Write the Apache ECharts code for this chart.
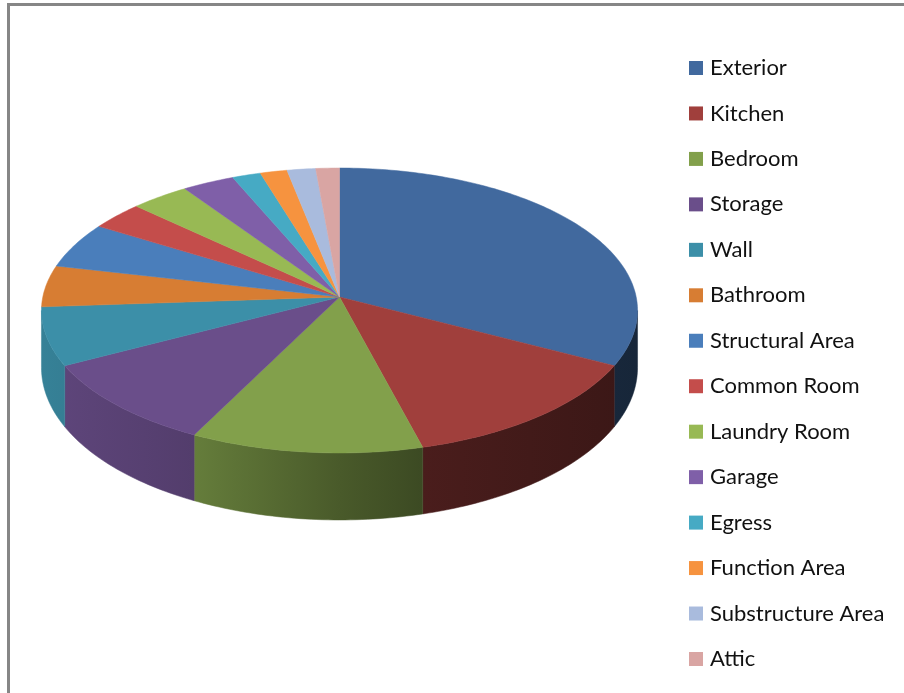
<!DOCTYPE html>
<html>
<head>
<meta charset="utf-8">
<style>html,body{margin:0;padding:0;background:#fff}#chart{width:904px;height:693px}</style>
<script src="https://cdn.jsdelivr.net/npm/echarts@6/dist/echarts.min.js"></script>
</head>
<body>
<div id="chart"></div>
<script>
// Share of issues per area, in percent
const categories = ['Exterior','Kitchen','Bedroom','Storage','Wall','Bathroom','Structural Area','Common Room','Laundry Room','Garage','Egress','Function Area','Substructure Area','Attic'];
const shares = [32.7,13.2,11.5,9.9,6.6,4.7,5.2,3.2,3.5,3.1,1.7,1.6,1.7,1.4];
const colors = ['#41699E','#A03F3C','#82A04B','#6A4E8A','#3C8FA8','#D77D33','#4A7EBB','#C44D4B','#98B954','#7F5FA8','#46AAC4','#F6933F','#A9BBDD','#D9A5A3'];

// Tilted disc: hub position, radii, perspective strength and rim thickness
const hubX = 339.5, hubY = 297, radX = 296.7, radY = 141.2, persp = 0.0947;
const rimBase = 56, rimFront = 11;
const total = shares.reduce((a, b) => a + b, 0);
const startAngle = [];
shares.reduce((acc, v, i) => { startAngle[i] = acc / total * 360; return acc + v; }, 0);

function rimPoint(deg) {
  const t = deg * Math.PI / 180, u = Math.sin(t), v = Math.cos(t), w = 1 + persp * v;
  return { x: hubX + radX * u / w, y: hubY - radY * v / w, drop: rimBase - rimFront * v };
}
function arc(from, to) {
  const pts = [], n = Math.max(2, Math.ceil(to - from));
  for (let i = 0; i <= n; i++) pts.push(rimPoint(from + (to - from) * i / n));
  return pts;
}
// Rim shading darkens from left to right across the whole disc
const shadeStops = [[41, .9], [194, .78], [340, .56], [423, .46], [637, .36]];
function shade(hex, f) {
  const n = parseInt(hex.slice(1), 16);
  const c = [n >> 16, (n >> 8) & 255, n & 255].map(x => Math.round(x * f));
  return 'rgb(' + c.join(',') + ')';
}
function rimGradient(hex) {
  const x0 = shadeStops[0][0], x1 = shadeStops[shadeStops.length - 1][0];
  return {
    type: 'linear', global: true, x: x0, y: 0, x2: x1, y2: 0,
    colorStops: shadeStops.map(s => ({ offset: (s[0] - x0) / (x1 - x0), color: shade(hex, s[1]) }))
  };
}
const edgeRight = Math.acos(-persp) * 180 / Math.PI, edgeLeft = 360 - edgeRight;

const series = categories.map((name, i) => ({
  type: 'custom',
  name,
  coordinateSystem: 'none',
  silent: true,
  animation: false,
  itemStyle: { color: colors[i] },
  data: [[shares[i]]],
  renderItem(params, api) {
    const from = startAngle[i], to = from + api.value(0) / total * 360;
    const fill = api.visual('color');
    const children = [];
    const a = Math.max(from, edgeRight), b = Math.min(to, edgeLeft);
    if (b > a) {
      const top = arc(a, b);
      const poly = top.map(p => [p.x, p.y]).concat(top.slice().reverse().map(p => [p.x, p.y + p.drop]));
      children.push({ type: 'polygon', z2: 1, shape: { points: poly }, style: { fill: rimGradient(colors[i]), stroke: rimGradient(colors[i]), lineWidth: 0.5 } });
    }
    const face = [[hubX, hubY]].concat(arc(from, to).map(p => [p.x, p.y]));
    children.push({ type: 'polygon', z2: 2, shape: { points: face }, style: { fill, stroke: fill, lineWidth: 0.5 } });
    return { type: 'group', children };
  }
}));

const chart = echarts.init(document.getElementById('chart'), null, { renderer: 'canvas' });
chart.setOption({
  backgroundColor: '#ffffff',
  animation: false,
  legend: {
    orient: 'vertical',
    left: 684,
    top: 50,
    icon: 'rect',
    itemWidth: 14,
    itemHeight: 14,
    itemGap: 19.46,
    selectedMode: false,
    data: categories,
    textStyle: { color: '#111111', fontFamily: 'Lato', fontSize: 22, lineHeight: 26, padding: [0, 0, 0, 2] }
  },
  graphic: [
    { type: 'rect', silent: true, shape: { x: 7, y: 3, width: 897, height: 3 }, style: { fill: '#868686' } },
    { type: 'rect', silent: true, shape: { x: 7, y: 3, width: 3, height: 690 }, style: { fill: '#868686' } }
  ],
  series
});
</script>
</body>
</html>
